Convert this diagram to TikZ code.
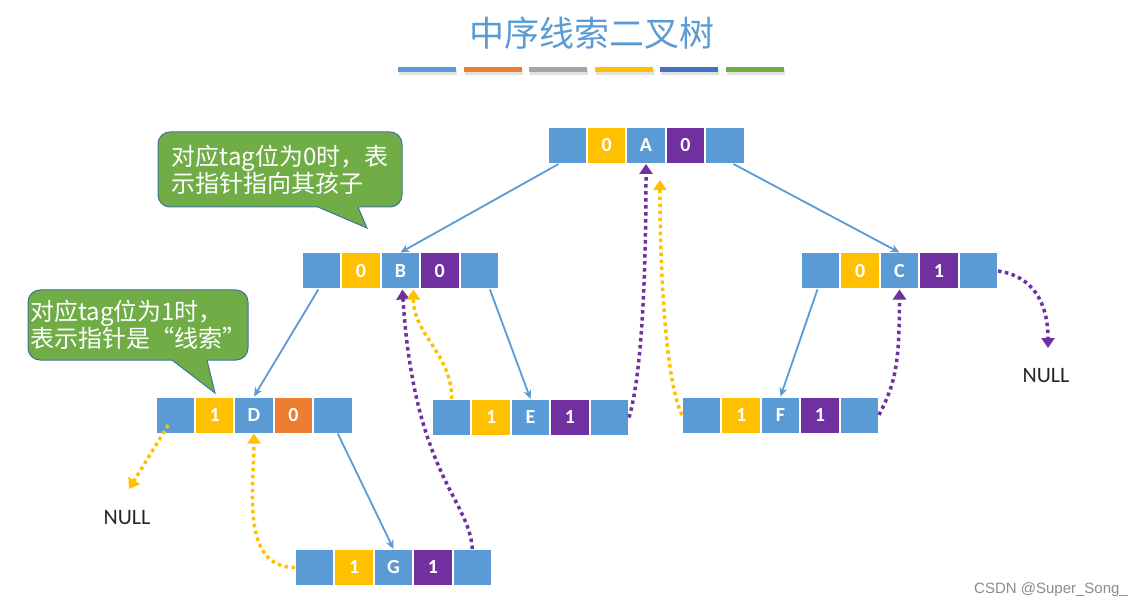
\documentclass[tikz,border=0pt]{standalone}
\usepackage{fontspec}
\setmainfont{Carlito}
\newfontfamily\cjk{Noto Sans CJK SC}
\newfontfamily\marksans{Liberation Sans}
\usetikzlibrary{positioning, arrows.meta}

\definecolor{cellblue}{HTML}{5B9BD5}
\definecolor{tagyellow}{HTML}{FFC000}
\definecolor{tagpurple}{HTML}{7030A0}
\definecolor{tagorange}{HTML}{ED7D31}
\definecolor{bargray}{HTML}{A5A5A5}
\definecolor{bardark}{HTML}{4472C4}
\definecolor{notegreen}{HTML}{70AD47}
\definecolor{noteedge}{HTML}{41719C}

\tikzset{
  cellbox/.style={draw=white, line width=1pt, fill=cellblue, minimum width=38.4pt, minimum height=36pt, inner sep=0pt, text=white, font=\fontsize{20}{20}\selectfont\bfseries},
  childarrow/.style={-{Stealth[length=9pt, width=8pt]}, cellblue, line width=1.8pt},
  thread/.style={line width=3.5pt, dash pattern=on 3.5pt off 3.5pt, -{Triangle[length=10pt, width=13pt]}},
  nulltext/.style={font=\fontsize{22}{22}\selectfont, text=black!85},
  notebox/.style={fill=notegreen, draw=noteedge, line width=1pt, rounded corners=12pt, text=white, align=left, inner sep=0pt, font=\cjk\fontsize{24}{26}\selectfont},
}

% one threaded node: name, position of data cell, ltag, data, rtag, rtag colour
\newcommand{\threadrec}[6]{%
  \node[cellbox] (#1) at #2 {#4};
  \node[cellbox, fill=tagyellow, left=0pt of #1] (#1lt) {#3};
  \node[cellbox, left=0pt of #1lt] (#1l) {};
  \node[cellbox, fill=#6, right=0pt of #1] (#1rt) {#5};
  \node[cellbox, right=0pt of #1rt] (#1r) {};
}

\begin{document}
\begin{tikzpicture}[x=1pt, y=1pt]
    \useasboundingbox (0,0) rectangle (1147,-609);

    \node[font=\cjk\fontsize{35}{35}\selectfont, text=cellblue] (title) at (592,-33) {中序线索二叉树};
    \foreach \c [count=\i from 0] in {cellblue, tagorange, bargray, tagyellow, bardark, notegreen} {
        \fill[black!12] (399+65.5*\i, -70) rectangle ++(58,-5);
        \fill[\c] (398+65.5*\i, -67) rectangle ++(58,-5);
    }

    \threadrec{A}{(646,-145.5)}{0}{A}{0}{tagpurple}
    \threadrec{B}{(400.4,-271)}{0}{B}{0}{tagpurple}
    \threadrec{C}{(899.5,-271)}{0}{C}{1}{tagpurple}
    \threadrec{D}{(254,-415)}{1}{D}{0}{tagorange}
    \threadrec{E}{(530.5,-417.5)}{1}{E}{1}{tagpurple}
    \threadrec{F}{(780.5,-415)}{1}{F}{1}{tagpurple}
    \threadrec{G}{(393.5,-567.5)}{1}{G}{1}{tagpurple}

    % child pointers
    \draw[childarrow] (Al.-115) -- (B.north);
    \draw[childarrow] (Ar.-65) -- (C.north);
    \draw[childarrow] (Bl.-100) -- (D.north);
    \draw[childarrow] (Br.-60) -- (E.north);
    \draw[childarrow] (Cl.-100) -- (F.north);
    \draw[childarrow] (Dr.-75) -- (G.north);

    % threads
    \coordinate (nullD) at (129,-489);
    \coordinate (nullC) at (1048,-348);
    \node[nulltext] (nullDtext) at (127,-518) {NULL};
    \node[nulltext] (nullCtext) at (1046,-376) {NULL};

    \draw[thread, tagyellow] ([xshift=-7pt, yshift=-10pt]Dl.center) -- (nullD);
    \draw[thread, tagyellow] (Gl.west) to[out=180, in=-90] (D.south);
    \draw[thread, tagpurple] (Gr.north) .. controls +(-3,50) and +(12,-185) .. (B.-84);
    \draw[thread, tagyellow] (El.north) to[out=90, in=-90] (B.-55);
    \draw[thread, tagpurple] (Er.east) .. controls +(12,40) and +(0,-120) .. (A.south);
    \draw[thread, tagyellow, shorten >=16pt] (Fl.west) .. controls +(-15,30) and +(0,-120) .. (A.-53);
    \draw[thread, tagpurple] (Fr.east) .. controls +(15,30) and +(0,-80) .. (C.south);
    \draw[thread, tagpurple] (Cr.east) .. controls +(35,-5) and +(0,45) .. (nullC);

    % callouts
    \node[notebox, minimum width=244pt, minimum height=75pt] (note0) at (280,-169.5) {对应tag位为0时，表\\示指针指向其孩子};
    \fill[notegreen] (318,-205) -- (318,-207) -- (367,-228) -- (358,-207) -- (358,-205) -- cycle;
    \draw[noteedge, line width=1pt] (318,-207) -- (367,-228) -- (358,-207);

    \node[notebox, minimum width=220pt, minimum height=70pt] (note1) at (138,-325) {对应tag位为1时，\\表示指针是“线索”};
    \fill[notegreen] (172,-358) -- (172,-360) -- (215,-393) -- (207,-360) -- (207,-358) -- cycle;
    \draw[noteedge, line width=1pt] (172,-360) -- (215,-393) -- (207,-360);

    \node[font=\marksans\fontsize{15}{15}\selectfont, text=black!45] (mark) at (1051,-590) {CSDN @Super\_Song\_};
\end{tikzpicture}
\end{document}
